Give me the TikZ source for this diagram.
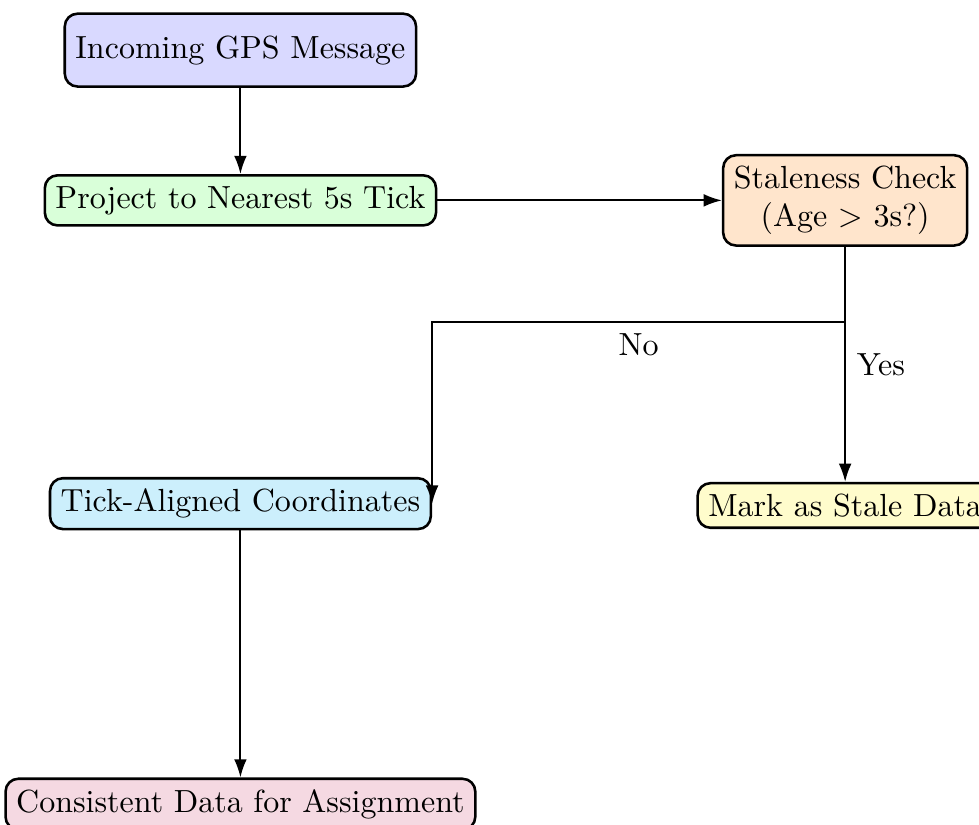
\documentclass[tikz,border=0pt]{standalone}
\usetikzlibrary{arrows.meta}

\begin{document}
\begin{tikzpicture}[
        box/.style = {draw, thick, rounded corners = 4pt},
        flow/.style = {semithick, -{Latex[length = 2mm, width = 1.4mm]}}
    ]
        \useasboundingbox (0, 0) rectangle (10.75, -9.05);
        \node [box, fill = blue!15, minimum height = 0.8cm] (gps) at (2.64, -0.55) {Incoming GPS Message};
        \node [box, fill = green!15] (project) at (2.64, -2.2) {Project to Nearest 5s Tick};
        \node [box, fill = orange!20, align = center] (check) at (9.28, -2.2) {Staleness Check\\(Age $>$ 3s?)};
        \node [box, fill = cyan!20] (tick) at (2.64, -5.53) {Tick-Aligned Coordinates};
        \node [box, fill = yellow!20] (stale) at (9.28, -5.55) {Mark as Stale Data};
        \node [box, fill = purple!15] (consistent) at (2.64, -8.83) {Consistent Data for Assignment};
        \coordinate (split) at (check.south |- 0, -3.54);
        \draw [flow] (gps) -- (project);
        \draw [flow] (project) -- (check);
        \draw [flow] (check) -- node [right] {Yes} (stale);
        \draw [flow] (split) -| node [pos = 0.25, below] {No} (tick.east);
        \draw [flow] (tick) -- (consistent);
    \end{tikzpicture}
\end{document}
